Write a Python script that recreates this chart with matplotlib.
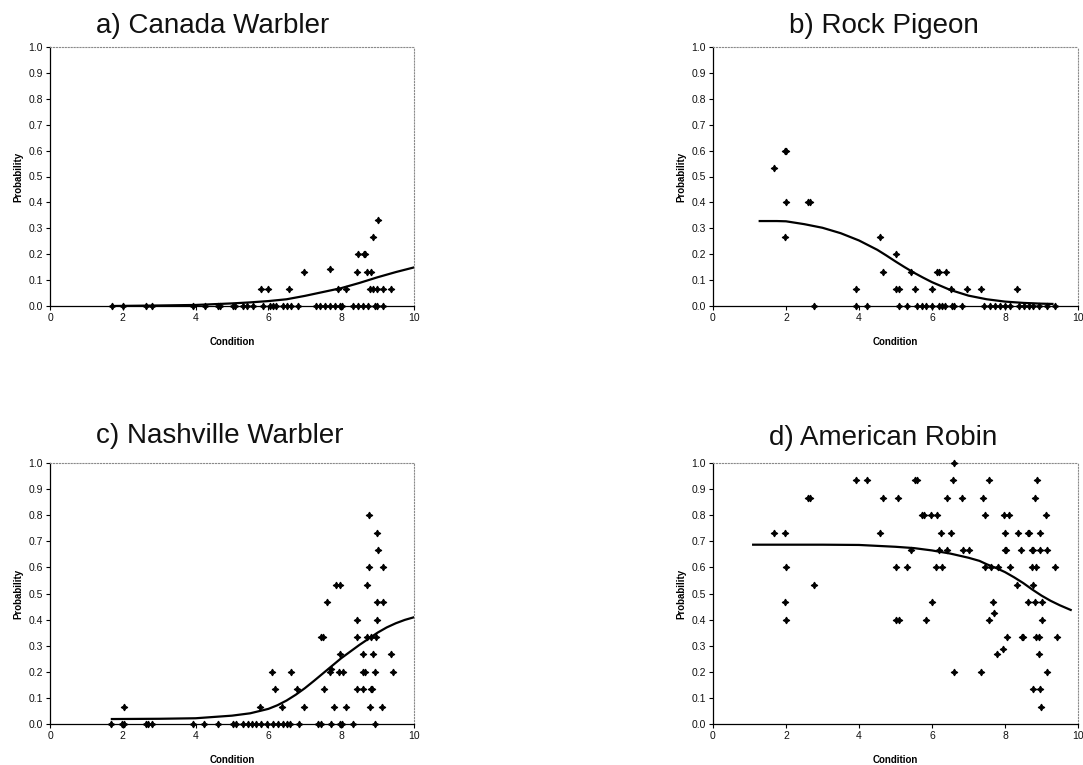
"""
Four-panel probability vs. condition figure (a-d species), scanned-report look.
"""
import matplotlib
matplotlib.use("Agg")
import matplotlib.pyplot as plt
from matplotlib.ticker import FormatStrFormatter

plt.rcParams["font.family"] = ["Liberation Sans", "DejaVu Sans"]

# ---- a) Canada Warbler ----
cawa_x = [1.69, 2.01, 2.65, 2.79, 3.93, 4.25, 4.62, 4.67, 5.03, 5.08, 5.31, 5.40,
          5.58, 5.86, 6.04, 6.13, 6.22, 6.40, 6.50, 6.63, 6.82, 7.32, 7.41, 7.55,
          7.69, 7.82, 7.96, 8.01, 8.33, 8.46, 8.60, 8.74, 8.92, 8.97, 9.15,
          5.79, 5.99, 6.57, 6.97, 7.69, 7.91, 8.12, 8.44, 8.46, 8.63, 8.66, 8.72,
          8.83, 8.78, 8.87, 8.87, 8.99, 9.01, 9.15, 9.38]
cawa_y = [0.0] * 35 + \
         [0.067, 0.067, 0.067, 0.133, 0.143, 0.067, 0.067, 0.133, 0.2, 0.2, 0.2, 0.133,
          0.133, 0.067, 0.067, 0.267, 0.067, 0.333, 0.067, 0.067]
cawa_fit_x = [1.7, 3.0, 4.0, 5.0, 5.5, 6.0, 6.5, 7.0, 7.5, 8.0, 8.5, 9.0, 9.5, 10.0]
cawa_fit_y = [0.0, 0.002, 0.004, 0.010, 0.014, 0.019, 0.026, 0.039, 0.054, 0.069,
              0.089, 0.111, 0.131, 0.149]

# ---- b) Rock Pigeon ----
ropi_x = [1.67, 1.97, 2.01, 2.01, 1.97, 2.59, 2.67, 3.92, 4.57, 4.65, 5.01, 5.00,
          5.09, 5.42, 5.54, 5.99, 6.13, 6.20, 6.39, 6.51, 6.97, 7.34, 8.33,
          2.77, 3.92, 4.23, 5.09, 5.31, 5.58, 5.72, 5.83, 5.99, 6.18, 6.27, 6.36,
          6.54, 6.61, 6.82, 7.43, 7.59, 7.73, 7.87, 8.01, 8.14, 8.37, 8.51, 8.65,
          8.78, 8.92, 9.15, 9.38]
ropi_y = [0.533, 0.6, 0.6, 0.4, 0.267, 0.4, 0.4, 0.067, 0.267, 0.133, 0.2, 0.067,
          0.067, 0.133, 0.067, 0.067, 0.133, 0.133, 0.133, 0.067, 0.067, 0.067, 0.067] + \
         [0.0] * 28
ropi_fit_x = [1.28, 1.75, 2.0, 2.5, 3.0, 3.5, 4.0, 4.5, 4.75, 5.0, 5.25, 5.5, 5.75,
              6.0, 6.5, 7.0, 7.5, 8.0, 8.5, 9.0, 9.3]
ropi_fit_y = [0.328, 0.328, 0.327, 0.316, 0.302, 0.281, 0.253, 0.217, 0.195, 0.172,
              0.150, 0.129, 0.110, 0.092, 0.062, 0.040, 0.026, 0.017, 0.012, 0.009,
              0.008]

# ---- c) Nashville Warbler ----
nawa_x = [2.03, 5.76, 6.11, 6.18, 6.36, 6.61, 6.79, 6.97, 7.44, 7.50, 7.53, 7.62,
          7.68, 7.72, 7.80, 7.85, 7.98, 7.96, 7.95, 8.05, 8.12, 8.44, 8.44, 8.44,
          8.60, 8.60, 8.60, 8.65, 8.72, 8.77, 8.77, 8.72, 8.81, 8.78, 8.81, 8.85,
          8.86, 8.92, 8.95, 8.97, 8.97, 9.01, 8.99, 9.15, 9.15, 9.12, 9.38, 9.42,
          1.67, 1.97, 2.03, 2.63, 2.70, 2.81, 3.93, 4.23, 4.62, 5.03, 5.10, 5.31,
          5.44, 5.55, 5.67, 5.81, 5.95, 6.13, 6.27, 6.40, 6.52, 6.59, 6.83, 7.36,
          7.44, 7.73, 7.96, 8.02, 8.33, 8.92]
nawa_y = [0.067, 0.067, 0.2, 0.133, 0.067, 0.2, 0.133, 0.067, 0.333, 0.333, 0.133, 0.467,
          0.2, 0.21, 0.067, 0.533, 0.533, 0.267, 0.2, 0.2, 0.067, 0.4, 0.333, 0.133,
          0.133, 0.267, 0.2, 0.2, 0.533, 0.6, 0.8, 0.333, 0.333, 0.067, 0.133, 0.133,
          0.267, 0.2, 0.333, 0.733, 0.4, 0.667, 0.467, 0.467, 0.6, 0.067, 0.267, 0.2] + \
         [0.0] * 30
nawa_fit_x = [1.7, 3.0, 4.0, 5.0, 5.5, 6.0, 6.25, 6.5, 6.75, 7.0, 7.25, 7.5, 7.75,
              8.0, 8.5, 9.0, 9.25, 9.5, 9.75, 10.0]
nawa_fit_y = [0.019, 0.020, 0.022, 0.032, 0.041, 0.058, 0.072, 0.090, 0.112, 0.137,
              0.165, 0.194, 0.223, 0.252, 0.303, 0.350, 0.370, 0.386, 0.399, 0.409]

# ---- d) American Robin ----
amro_x = [6.61,
          3.92, 4.23, 5.54, 5.58, 6.57, 7.55, 8.87,
          2.61, 2.67, 4.65, 5.08, 6.40, 6.82, 7.41, 8.81,
          5.72, 5.78, 5.97, 6.13, 7.46, 7.98, 8.10, 9.12,
          1.67, 1.97, 4.57, 6.25, 6.51, 8.00, 8.35, 8.63, 8.67, 8.95,
          5.42, 6.20, 6.40, 6.84, 7.00, 7.99, 8.03, 8.44, 8.74, 8.78, 8.95, 9.15,
          2.01, 5.01, 5.31, 6.11, 6.27, 7.46, 7.62, 7.82, 8.13, 8.74, 8.86, 9.38,
          2.77, 8.33, 8.78,
          1.97, 5.99, 7.66, 8.62, 8.83, 9.01,
          2.01, 5.00, 5.09, 5.84, 7.55, 9.01,
          7.70,
          8.05, 8.46, 8.49, 8.86, 8.92, 9.42,
          7.94, 7.79, 8.92,
          6.61, 7.35, 9.15,
          8.78, 8.95, 8.98]
amro_y = [1.0] + [0.933] * 7 + [0.867] * 8 + [0.8] * 8 + [0.733] * 10 + \
         [0.667] * 12 + [0.6] * 12 + [0.533] * 3 + [0.467] * 6 + [0.4] * 6 + \
         [0.427] + [0.333] * 6 + [0.286, 0.267, 0.267] + [0.2] * 3 + \
         [0.133, 0.133, 0.067]
amro_fit_x = [1.1, 2.0, 3.0, 4.0, 5.0, 5.5, 6.0, 6.5, 7.0, 7.3, 7.5, 7.75, 8.0,
              8.25, 8.5, 8.75, 9.0, 9.25, 9.5, 9.8]
amro_fit_y = [0.687, 0.687, 0.687, 0.686, 0.679, 0.674, 0.665, 0.653, 0.637, 0.625,
              0.612, 0.598, 0.582, 0.562, 0.540, 0.515, 0.492, 0.472, 0.455, 0.437]

panels = [
    ("a) Canada Warbler", cawa_x, cawa_y, cawa_fit_x, cawa_fit_y),
    ("b) Rock Pigeon", ropi_x, ropi_y, ropi_fit_x, ropi_fit_y),
    ("c) Nashville Warbler", nawa_x, nawa_y, nawa_fit_x, nawa_fit_y),
    ("d) American Robin", amro_x, amro_y, amro_fit_x, amro_fit_y),
]

W, H = 1083, 765
# axes rectangles in pixels: left, top, right, bottom
rects = [(50, 47, 414, 306), (713, 47, 1078, 306),
         (50, 463, 414, 724), (713, 463, 1078, 724)]
# title anchor (center x, baseline y) in pixels
title_pos = [(213, 33), (884, 33), (220, 443), (883, 445)]


def main():
    fig = plt.figure(figsize=(W / 100, H / 100), dpi=100)
    fig.patch.set_facecolor("white")

    for (title, x, y, fx, fy), (l, t, r, b), (tx, ty) in zip(panels, rects, title_pos):
        ax = fig.add_axes([l / W, (H - b) / H, (r - l) / W, (b - t) / H])
        ax.plot(fx, fy, color="black", linewidth=1.6, zorder=2,
                solid_joinstyle="round")
        ax.plot(x, y, linestyle="none", marker=(4, 1, 0), markersize=4.8,
                color="black", markeredgewidth=0.8, zorder=3, clip_on=False)

        ax.set_xlim(0, 10)
        ax.set_ylim(0, 1.0)
        ax.set_xticks(range(0, 11, 2))
        ax.set_yticks([i / 10 for i in range(11)])
        ax.yaxis.set_major_formatter(FormatStrFormatter("%.1f"))
        ax.tick_params(axis="both", labelsize=7.5, length=3, width=0.8,
                       direction="out", pad=2, labelcolor="#111111")

        for side in ("left", "bottom"):
            ax.spines[side].set_color("black")
            ax.spines[side].set_linewidth(0.9)
        for side in ("top", "right"):
            ax.spines[side].set_color("#8a8a8a")
            ax.spines[side].set_linestyle(":")
            ax.spines[side].set_linewidth(0.8)

        ax.set_ylabel("Probability", fontsize=7, weight="bold", labelpad=4)
        ax.set_xlabel("Condition", fontsize=7, weight="bold", labelpad=10)

        fig.text(tx / W, (H - ty) / H, title, fontsize=20, ha="center",
                 va="baseline", color="#111111")

    fig.savefig("out.png", dpi=100, facecolor="white")


if __name__ == "__main__":
    main()
